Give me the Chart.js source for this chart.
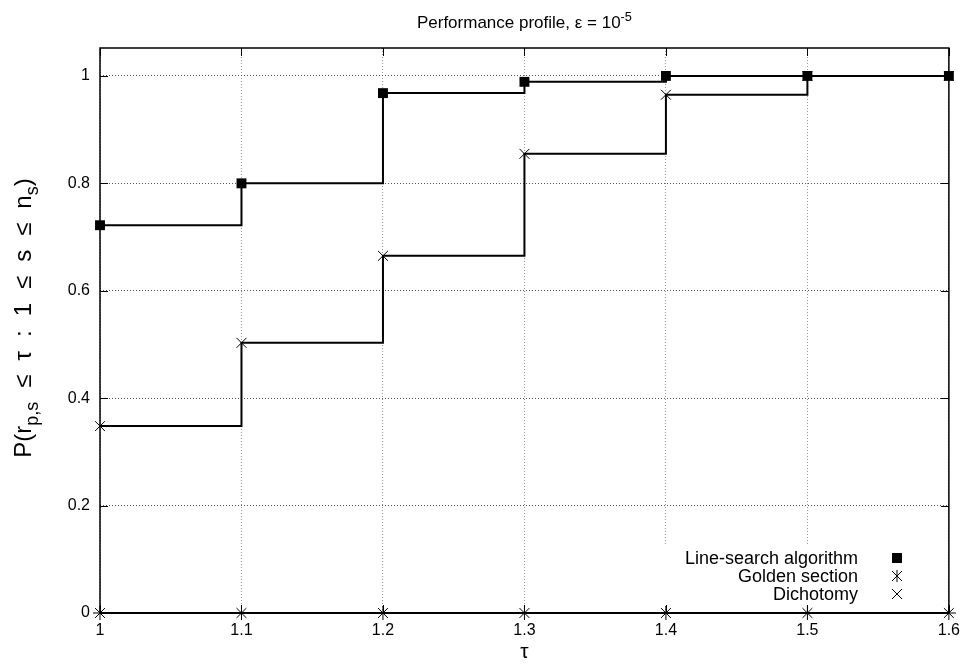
<!DOCTYPE html>
<html>
<head>
<meta charset="utf-8">
<title>Performance profile</title>
<script src="https://cdn.jsdelivr.net/npm/chart.js@4/dist/chart.umd.min.js"></script>
<style>
  html, body { margin: 0; padding: 0; background: #fff; }
  #wrap { width: 968px; height: 669px; }
</style>
</head>
<body>
<div id="wrap"><canvas id="profileChart" width="968" height="669"></canvas></div>
<script>
// tau values and the three profiles
const tauValues = [1.0, 1.1, 1.2, 1.3, 1.4, 1.5, 1.6];
const lineSearch = [0.722, 0.8, 0.968, 0.989, 1, 1, 1];
const goldenSection = [0, 0, 0, 0, 0, 0, 0];
const dichotomy = [0.348, 0.503, 0.665, 0.855, 0.965, 1, 1];
const seriesNames = ['Line-search algorithm', 'Golden section', 'Dichotomy'];
const yTicks = [0, 0.2, 0.4, 0.6, 0.8, 1];
const xTicks = tauValues;

const FONT = "'Liberation Sans', Arial, Helvetica, sans-serif";

function toPoints(ys) {
  return tauValues.map((t, i) => ({ x: t, y: ys[i] }));
}

// draws a run of text pieces (some sub/superscript), centred on cx
function drawRich(ctx, parts, size, cx, cy, gap) {
  gap = gap || 0;
  let total = 0;
  const widths = parts.map(p => {
    ctx.font = (p.sub || p.sup ? size * 0.75 : size) + 'px ' + FONT;
    const w = ctx.measureText(p.t).width + (p.gap ? gap : 0);
    total += w;
    return w;
  });
  let x = cx - total / 2;
  parts.forEach((p, i) => {
    ctx.font = (p.sub || p.sup ? size * 0.75 : size) + 'px ' + FONT;
    let dy = 0;
    if (p.sub) dy = size * 0.3;
    if (p.sup) dy = -size * 0.42;
    ctx.fillText(p.t, x, cy + dy);
    x += widths[i];
  });
}

const framePlugin = {
  id: 'frame',
  afterDatasetsDraw(chart) {
    const ctx = chart.ctx;
    const a = chart.chartArea;
    const xs = chart.scales.x, ys = chart.scales.y;
    ctx.save();

    // legend box (opaque, hides grid behind it)
    ctx.fillStyle = '#fff';
    ctx.fillRect(662, 546, 286, 58);
    ctx.fillStyle = '#000';
    ctx.font = '18px ' + FONT;
    ctx.textAlign = 'right';
    ctx.textBaseline = 'middle';
    const rowY = [558, 576, 594];
    const mx = 897;
    seriesNames.forEach((name, i) => {
      ctx.fillText(name, 858, rowY[i] + 1);
    });
    ctx.strokeStyle = '#000';
    ctx.lineWidth = 1;
    ctx.fillRect(mx - 5, rowY[0] - 5, 10, 10);
    // asterisk
    ctx.beginPath();
    ctx.moveTo(mx, rowY[1] - 6); ctx.lineTo(mx, rowY[1] + 6);
    ctx.moveTo(mx - 5, rowY[1] - 5); ctx.lineTo(mx + 5, rowY[1] + 5);
    ctx.moveTo(mx - 5, rowY[1] + 5); ctx.lineTo(mx + 5, rowY[1] - 5);
    ctx.stroke();
    // cross
    ctx.beginPath();
    ctx.moveTo(mx - 5, rowY[2] - 5); ctx.lineTo(mx + 5, rowY[2] + 5);
    ctx.moveTo(mx - 5, rowY[2] + 5); ctx.lineTo(mx + 5, rowY[2] - 5);
    ctx.stroke();

    // inward tick marks on all four sides
    ctx.lineWidth = 1;
    ctx.beginPath();
    xTicks.forEach(v => {
      const px = Math.round(xs.getPixelForValue(v)) + 0.5;
      ctx.moveTo(px, a.bottom); ctx.lineTo(px, a.bottom - 8);
      ctx.moveTo(px, a.top); ctx.lineTo(px, a.top + 8);
    });
    yTicks.forEach(v => {
      const py = Math.round(ys.getPixelForValue(v)) + 0.5;
      ctx.moveTo(a.left, py); ctx.lineTo(a.left + 8, py);
      ctx.moveTo(a.right, py); ctx.lineTo(a.right - 8, py);
    });
    ctx.stroke();

    // plot border
    ctx.lineWidth = 1.5;
    ctx.strokeRect(a.left, a.top, a.right - a.left, a.bottom - a.top);

    // title, centred over the plot area
    ctx.textAlign = 'left';
    ctx.textBaseline = 'alphabetic';
    drawRich(ctx, [
      { t: 'Performance profile, ε = 10' },
      { t: '-5', sup: true }
    ], 17, (a.left + a.right) / 2, 28);

    // x axis label
    ctx.font = '21px ' + FONT;
    ctx.textAlign = 'center';
    ctx.fillText('τ', (a.left + a.right) / 2, 658);

    // y axis label, rotated
    ctx.translate(31, 318);
    ctx.rotate(-Math.PI / 2);
    ctx.textAlign = 'left';
    drawRich(ctx, [
      { t: 'P(r' },
      { t: 'p,s', sub: true, gap: true },
      { t: '≤', gap: true },
      { t: 'τ', gap: true },
      { t: ':', gap: true },
      { t: '1', gap: true },
      { t: '≤', gap: true },
      { t: 's', gap: true },
      { t: '≤', gap: true },
      { t: 'n' },
      { t: 's', sub: true },
      { t: ')' }
    ], 24, 0, 0, 14);
    ctx.restore();
  }
};

const ctx = document.getElementById('profileChart').getContext('2d');
const chart = new Chart(ctx, {
  type: 'line',
  data: {
    datasets: [
      {
        label: seriesNames[0],
        data: toPoints(lineSearch),
        borderColor: '#000',
        backgroundColor: '#000',
        borderWidth: 2,
        stepped: 'before',
        pointStyle: 'rect',
        pointRadius: 7,
        pointBorderWidth: 0,
        pointBackgroundColor: '#000',
        clip: false
      },
      {
        label: seriesNames[1],
        data: toPoints(goldenSection),
        borderColor: '#000',
        backgroundColor: '#000',
        borderWidth: 2,
        stepped: 'before',
        pointStyle: 'star',
        pointRadius: 7,
        pointBorderWidth: 1,
        clip: false
      },
      {
        label: seriesNames[2],
        data: toPoints(dichotomy),
        borderColor: '#000',
        backgroundColor: '#000',
        borderWidth: 2,
        stepped: 'before',
        pointStyle: 'crossRot',
        pointRadius: 7,
        pointBorderWidth: 1,
        clip: false
      }
    ]
  },
  options: {
    responsive: false,
    animation: false,
    layout: { padding: { top: 48, right: 17, left: 0, bottom: 0 } },
    scales: {
      x: {
        type: 'linear',
        min: 1,
        max: 1.6,
        afterBuildTicks(scale) {
          scale.ticks = xTicks.map(v => ({ value: v }));
        },
        afterFit(scale) { scale.height = 56; },
        ticks: {
          color: '#000',
          font: { family: FONT, size: 16 },
          padding: 8,
          maxRotation: 0,
          callback: v => String(Math.round(v * 10) / 10)
        },
        grid: { color: '#999', lineWidth: 1, drawTicks: false },
        border: { display: false, dash: [1, 2] }
      },
      y: {
        min: 0,
        max: 1.052,
        afterBuildTicks(scale) {
          scale.ticks = yTicks.map(v => ({ value: v }));
        },
        afterFit(scale) { scale.width = 100; },
        ticks: {
          color: '#000',
          font: { family: FONT, size: 16 },
          padding: 10,
          callback: v => String(Math.round(v * 10) / 10)
        },
        grid: { color: '#555', lineWidth: 1, drawTicks: false },
        border: { display: false, dash: [1, 2] }
      }
    },
    plugins: {
      legend: { display: false },
      tooltip: { enabled: false },
      title: { display: false }
    }
  },
  plugins: [framePlugin]
});
</script>
</body>
</html>
